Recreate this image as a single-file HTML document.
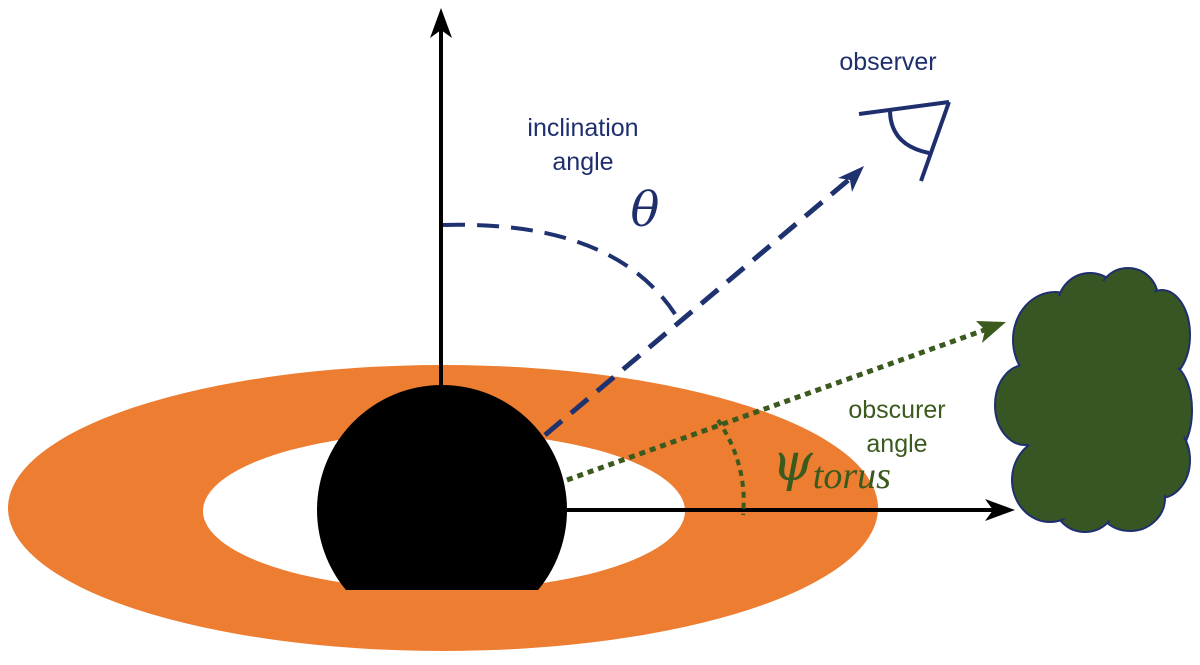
<!DOCTYPE html>
<html><head><style>body{margin:0;background:#fff}svg{display:block}</style></head><body>
<svg width="1200" height="665" viewBox="0 0 1200 665" xmlns="http://www.w3.org/2000/svg">
<defs><clipPath id="cb"><rect x="0" y="0" width="1200" height="590"/></clipPath></defs>
<ellipse cx="443" cy="508" rx="435" ry="143" fill="#ed7d31"/>
<ellipse cx="444" cy="511" rx="241" ry="79" fill="#fff"/>
<circle cx="442" cy="510" r="125" fill="#000" clip-path="url(#cb)"/>
<!-- axes -->
<line x1="441" y1="386" x2="441" y2="20" stroke="#000" stroke-width="4"/>
<path d="M441,8 L452,38 L441,30 L430,38Z" fill="#000"/>
<line x1="567" y1="510" x2="1000" y2="510" stroke="#000" stroke-width="4"/>
<path d="M1015,510 L985,499 L993,510 L985,521Z" fill="#000"/>
<!-- blue dashed -->
<line x1="545" y1="435" x2="852" y2="177" stroke="#1f3270" stroke-width="5" stroke-dasharray="22,12"/>
<path d="M864,166 L838,178 L850,180 L852,192Z" fill="#1f3270"/>
<path d="M443,225 Q620,220 680,322" fill="none" stroke="#1f3270" stroke-width="4" stroke-dasharray="22,12"/>
<!-- green dotted -->
<line x1="567" y1="480" x2="990" y2="328" stroke="#3a5a1e" stroke-width="5" stroke-dasharray="6,5"/>
<path d="M1006,322 L976,321 L985,330 L982,343Z" fill="#3a5a1e"/>
<path d="M718,420 Q748,465 743,515" fill="none" stroke="#3a5a1e" stroke-width="4" stroke-dasharray="6,5"/>
<!-- observer eye -->
<g stroke="#1f2f6e" stroke-width="4" fill="none">
<line x1="859" y1="114" x2="949" y2="102"/>
<line x1="949" y1="102" x2="921" y2="181"/>
<path d="M890,110 Q890,145 929,153"/>
</g>
<!-- cloud -->
<g fill="#375623" stroke="#1f2f6e" stroke-width="2">
<ellipse cx="1055" cy="340" rx="42" ry="48"/><ellipse cx="1090" cy="305" rx="32" ry="32"/><ellipse cx="1128" cy="298" rx="30" ry="30"/><ellipse cx="1162" cy="335" rx="28" ry="45"/>
<ellipse cx="1170" cy="410" rx="22" ry="45"/><ellipse cx="1160" cy="460" rx="30" ry="38"/><ellipse cx="1130" cy="498" rx="35" ry="33"/><ellipse cx="1085" cy="500" rx="32" ry="32"/>
<ellipse cx="1050" cy="480" rx="38" ry="42"/><ellipse cx="1025" cy="405" rx="30" ry="40"/>
</g>
<g fill="#375623"><ellipse cx="1095" cy="405" rx="72" ry="100"/><ellipse cx="1055" cy="342" rx="40" ry="46"/><ellipse cx="1090" cy="308" rx="30" ry="30"/><ellipse cx="1128" cy="301" rx="28" ry="28"/><ellipse cx="1160" cy="337" rx="26" ry="43"/><ellipse cx="1168" cy="410" rx="20" ry="43"/><ellipse cx="1158" cy="460" rx="28" ry="36"/><ellipse cx="1128" cy="495" rx="33" ry="31"/><ellipse cx="1085" cy="497" rx="30" ry="30"/><ellipse cx="1052" cy="478" rx="36" ry="40"/><ellipse cx="1028" cy="405" rx="28" ry="38"/></g>
<!-- text -->
<g font-family="Liberation Sans, sans-serif" font-size="25" text-anchor="middle">
<text x="583" y="136" fill="#1f2f6e">inclination</text>
<text x="583" y="170" fill="#1f2f6e">angle</text>
<text x="888" y="70" fill="#1f2f6e">observer</text>
<text x="897" y="418" fill="#3a5a1e">obscurer</text>
<text x="897" y="452" fill="#3a5a1e">angle</text>
</g>
<text x="645" y="226" font-family="DejaVu Serif, serif" font-style="italic" font-size="48" fill="#1f2f6e" text-anchor="middle">θ</text>
<text x="772" y="480" font-family="DejaVu Serif, serif" font-style="italic" font-size="52" fill="#3a5a1e">ψ<tspan font-size="38" dy="8" font-family="Liberation Serif, serif">torus</tspan></text>
</svg>
</body></html>
